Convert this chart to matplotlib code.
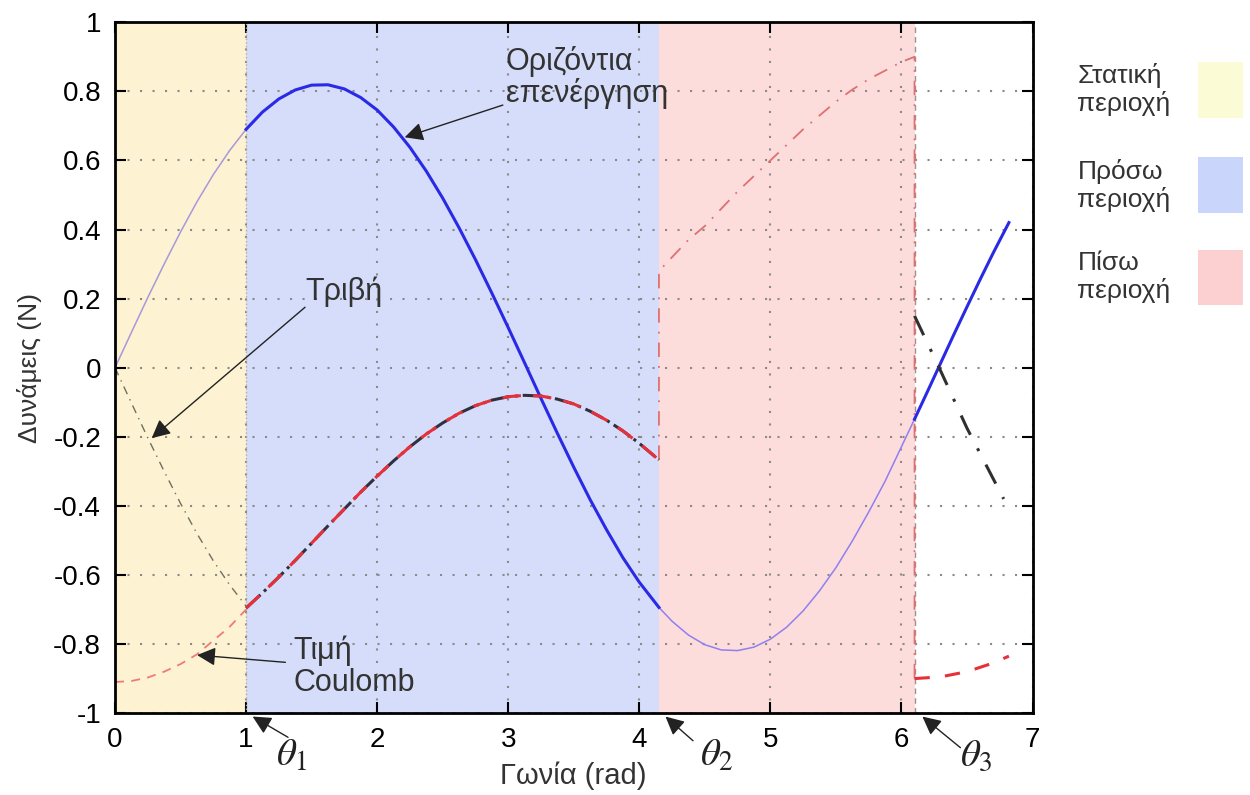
import numpy as np
import matplotlib.pyplot as plt
from matplotlib.patches import Rectangle

plt.rcParams['font.family'] = ['Liberation Sans', 'DejaVu Sans']
plt.rcParams['axes.unicode_minus'] = False
plt.rcParams['mathtext.fontset'] = 'stix'

# region limits (rad)
theta1 = 1.0
theta2 = 4.15
theta3 = 6.1
x_end = 7

# static region (0 .. theta1)
x_stat = [0.0, 0.125, 0.25, 0.375, 0.5, 0.625, 0.75, 0.875, 1.0]
force_stat = [0.0, 0.102, 0.203, 0.300, 0.393, 0.480, 0.559, 0.629, 0.690]
fric_stat = [0.0, -0.102, -0.203, -0.300, -0.393, -0.480, -0.559, -0.629, -0.690]
coul_stat = [-0.91, -0.907, -0.897, -0.88, -0.858, -0.83, -0.79, -0.75, -0.70]

# forward region (theta1 .. theta2)
x_fwd = [1.0, 1.125, 1.25, 1.375, 1.5, 1.625, 1.75, 1.875, 2.0, 2.125, 2.25,
         2.375, 2.5, 2.625, 2.75, 2.875, 3.0, 3.125, 3.25, 3.375, 3.5, 3.625,
         3.75, 3.875, 4.0, 4.15]
force_fwd = [0.690, 0.740, 0.778, 0.804, 0.818, 0.819, 0.807, 0.782, 0.746,
             0.697, 0.638, 0.569, 0.491, 0.405, 0.313, 0.216, 0.116, 0.014,
             -0.089, -0.190, -0.288, -0.382, -0.469, -0.550, -0.621, -0.694]
fric_fwd = [-0.696, -0.652, -0.606, -0.558, -0.508, -0.458, -0.409, -0.360,
            -0.314, -0.270, -0.229, -0.192, -0.160, -0.132, -0.110, -0.094,
            -0.084, -0.080, -0.082, -0.091, -0.105, -0.126, -0.152, -0.183,
            -0.219, -0.267]

# backward region (theta2 .. theta3)
x_back = [4.15, 4.25, 4.375, 4.5, 4.625, 4.75, 4.875, 5.0, 5.125, 5.25, 5.375,
          5.5, 5.625, 5.75, 5.875, 6.0, 6.1]
force_back = [-0.694, -0.734, -0.774, -0.802, -0.817, -0.819, -0.809, -0.786,
              -0.751, -0.704, -0.646, -0.579, -0.502, -0.418, -0.329, -0.229, -0.149]
x_back_fric = [4.15, 4.15, 4.375, 4.5, 4.625, 4.75, 4.875, 5.0, 5.125, 5.25,
               5.375, 5.5, 5.625, 5.75, 5.875, 6.0, 6.1, 6.1]
fric_back = [-0.267, 0.28, 0.37, 0.41, 0.46, 0.51, 0.555, 0.60, 0.645, 0.69,
             0.73, 0.77, 0.805, 0.835, 0.86, 0.885, 0.90, -0.90]

# after theta3
x_last = [6.1, 6.2, 6.3, 6.4, 6.5, 6.6, 6.7, 6.82]
force_last = [-0.149, -0.068, 0.014, 0.096, 0.176, 0.255, 0.332, 0.420]
x_last_coul = [6.1, 6.3, 6.5, 6.7, 6.82]
coul_last = [-0.90, -0.895, -0.88, -0.855, -0.835]
x_last_fric = [6.1, 6.3, 6.5, 6.78]
fric_last = [0.15, -0.01, -0.175, -0.38]

xticks = [0, 1, 2, 3, 4, 5, 6, 7]
yticks = [-1, -0.8, -0.6, -0.4, -0.2, 0, 0.2, 0.4, 0.6, 0.8, 1]

legend_labels = ['Στατική\nπεριοχή', 'Πρόσω\nπεριοχή', 'Πίσω\nπεριοχή']
legend_colors = ['#fbfbd6', '#c9d5fa', '#fcd0d0']

fig = plt.figure(figsize=(12.5, 7.95), dpi=100)
ax = fig.add_axes([0.092, 0.103, 0.734, 0.869])

ax.axvspan(0, theta1, color='#fdf2d2', lw=0)
ax.axvspan(theta1, theta2, color='#d5ddfa', lw=0)
ax.axvspan(theta2, theta3, color='#fddcdc', lw=0)
ax.axvline(theta1, color='#b8b090', lw=1, ls=':')
ax.axvline(theta3, color='#a09090', lw=1, ls='--', dashes=(4, 3))

# thin (inactive) parts
ax.plot(x_stat, force_stat, color='#a898dc', lw=1.1)
ax.plot(x_stat, fric_stat, color='#707060', lw=1, ls='-.', dashes=(6, 4, 1, 4))
ax.plot(x_stat, coul_stat, color='#f07a7a', lw=1.3, ls='--', dashes=(5, 4))
ax.plot(x_back, force_back, color='#8f80f0', lw=1.1)
ax.plot(x_back_fric, fric_back, color='#e07070', lw=1.3, ls='-.', dashes=(8, 5, 1, 5))

# thick (active) parts
ax.plot(x_fwd, force_fwd, color='#2a2ae6', lw=2.2)
ax.plot(x_fwd, fric_fwd, color='#303040', lw=2.2, ls='-.')
ax.plot(x_fwd, fric_fwd, color='#e8303a', lw=2.2, ls='--', dashes=(6, 4))
ax.plot(x_last, force_last, color='#2a2ae6', lw=2.2)
ax.plot(x_last_coul, coul_last, color='#e8303a', lw=2.2, ls='--', dashes=(5, 5))
ax.plot(x_last_fric, fric_last, color='#303030', lw=2.2, ls='-.', dashes=(7, 5, 1, 5))

ax.set_xlim(0, x_end)
ax.set_ylim(-1, 1)
ax.set_xticks(xticks)
ax.set_yticks(yticks)
ax.set_yticklabels(['%g' % v for v in yticks])
ax.grid(True, color='#8a8a8a', lw=1.5, ls=(0, (1, 5)))
ax.tick_params(direction='in', length=8, width=1.5, top=True, right=True,
               labelsize=20, pad=10)
for s in ax.spines.values():
    s.set_linewidth(2)

ax.set_xlabel('Γωνία (rad)', fontsize=21, color='#333333', labelpad=6)
ax.set_ylabel('Δυνάμεις (N)', fontsize=19, color='#333333', labelpad=8)

arrow = dict(arrowstyle='-|>', color='#222222', lw=1, mutation_scale=28,
             shrinkA=0, shrinkB=0)
ax.annotate('Οριζόντια\nεπενέργηση', xy=(2.21, 0.667), xytext=(2.98, 0.84),
            fontsize=22, color='#333333', va='center', ha='left',
            linespacing=1.05, arrowprops=arrow)
ax.text(1.45, 0.22, 'Τριβή', fontsize=22, color='#333333', va='center', ha='left')
ax.annotate('', xy=(0.28, -0.204), xytext=(1.45, 0.175), arrowprops=arrow)
ax.text(1.36, -0.865, 'Τιμή\nCoulomb', fontsize=22, color='#333333', va='center',
        ha='left', linespacing=1.1)
ax.annotate('', xy=(0.626, -0.832), xytext=(1.30, -0.853), arrowprops=arrow)

for lab, tip, tail, pos in [(r'$\theta_1$', (1.05, -1.01), (1.32, -1.07), (1.35, -1.125)),
                            (r'$\theta_2$', (4.20, -1.01), (4.41, -1.08), (4.59, -1.125)),
                            (r'$\theta_3$', (6.16, -1.01), (6.45, -1.10), (6.57, -1.125))]:
    ax.annotate('', xy=tip, xytext=tail, arrowprops=arrow, annotation_clip=False)
    ax.text(pos[0], pos[1], lab, fontsize=28, ha='center', va='center',
            color='#222222', clip_on=False)

# side legend
text_y = [0.887, 0.767, 0.651]
for lab, col, ty in zip(legend_labels, legend_colors, text_y):
    fig.text(0.862, ty, lab, fontsize=19, color='#333333', va='center', ha='left',
             linespacing=1.15)
    fig.patches.append(Rectangle((0.958, ty - 0.035), 0.036, 0.07, transform=fig.transFigure,
                                 facecolor=col, edgecolor='none'))

fig.savefig('out.png', dpi=100)
